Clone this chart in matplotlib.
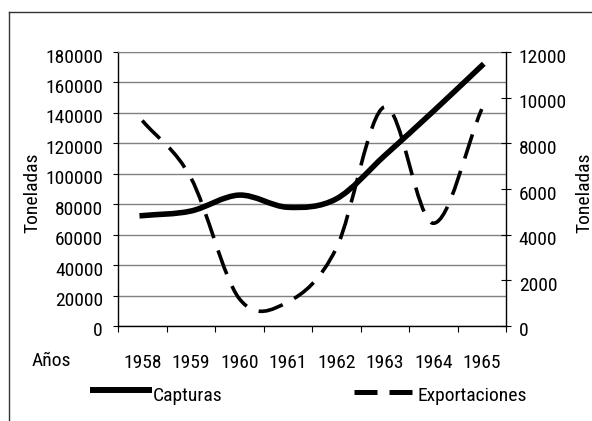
# Capturas y exportaciones, 1958-1965 (dos ejes)
import numpy as np
import matplotlib
matplotlib.use("Agg")
import matplotlib.pyplot as plt
import matplotlib.transforms as mtransforms
from matplotlib import font_manager
from matplotlib.path import Path
from matplotlib.patches import PathPatch
from matplotlib.lines import Line2D

years = ["1958", "1959", "1960", "1961", "1962", "1963", "1964", "1965"]
capturas = [72500, 75500, 86000, 78000, 83500, 112000, 141000, 171000]
exportaciones = [9000, 6500, 1200, 1050, 3400, 9600, 4500, 9500]
left_ticks = list(range(0, 180001, 20000))
right_ticks = list(range(0, 12001, 2000))

W, H = 592, 421

names = {f.name for f in font_manager.fontManager.ttflist}
FONT, FS = "Liberation Sans", 12
for cand in ["Liberation Sans Narrow", "Arial Narrow", "Roboto Condensed"]:
    if cand in names:
        FONT, FS = cand, 14
        break
plt.rcParams["font.family"] = [FONT, "DejaVu Sans"]
plt.rcParams["font.size"] = FS


def fx(x):
    return x / W


def fy(y):
    return 1 - y / H


def smooth_path(xs, ys):
    # bezier suavizado tipo Excel que pasa por cada punto
    pts = np.column_stack([xs, ys]).astype(float)
    ext = np.vstack([2 * pts[0] - pts[1], pts, 2 * pts[-1] - pts[-2]])
    verts = [pts[0]]
    codes = [Path.MOVETO]
    for i in range(len(pts) - 1):
        p0, p1, p2, p3 = ext[i], ext[i + 1], ext[i + 2], ext[i + 3]
        verts += [p1 + (p2 - p0) / 6, p2 - (p3 - p1) / 6, p2]
        codes += [Path.CURVE4] * 3
    return Path(verts, codes)


fig = plt.figure(figsize=(W / 100, H / 100), dpi=100)
ax = fig.add_axes([fx(118), 1 - 326 / H, 388 / W, 274 / H])
ax2 = ax.twinx()

x = np.arange(len(years)) + 0.5
ax.set_xlim(0, len(years))
ax.set_ylim(0, 180000)
ax2.set_ylim(0, 12000)

ax.set_xticks(np.arange(len(years) + 1))
ax.set_xticks(x, minor=True)
ax.set_xticklabels([], minor=False)
ax.set_xticklabels(years, minor=True)
ax.tick_params(axis="x", which="major", direction="out", length=4.3, width=0.8)
ax.tick_params(axis="x", which="minor", length=0, pad=20.5)

ax.set_yticks(left_ticks)
ax.set_yticklabels([str(v) for v in left_ticks])
ax.tick_params(axis="y", direction="out", length=3.6, width=0.8, pad=7.2)
ax2.set_yticks(right_ticks)
ax2.set_yticklabels([str(v) for v in right_ticks])
ax2.tick_params(axis="y", direction="inout", length=6.5, width=0.8, pad=6)

off = mtransforms.ScaledTranslation(0, -0.035, fig.dpi_scale_trans)
for lbl in ax.get_yticklabels() + ax2.get_yticklabels():
    lbl.set_transform(lbl.get_transform() + off)

ax.yaxis.grid(True, color="#808080", lw=1)
ax.set_axisbelow(True)
for s in ["left", "bottom"]:
    ax.spines[s].set_color("black")
    ax.spines[s].set_linewidth(1)
ax.spines["top"].set_color("#808080")
ax.spines["right"].set_visible(False)
for s in ["left", "bottom", "top"]:
    ax2.spines[s].set_visible(False)
ax2.spines["right"].set_color("black")
ax2.spines["right"].set_linewidth(1)

exp_line = PathPatch(smooth_path(x, exportaciones), fill=False, edgecolor="black",
                     lw=2.6, linestyle=(0, (7, 3.6)), capstyle="butt",
                     transform=ax2.transData, zorder=2)
cap_line = PathPatch(smooth_path(x, capturas), fill=False, edgecolor="black",
                     lw=4, capstyle="projecting", joinstyle="round",
                     transform=ax.transData, zorder=3)
ax.add_patch(exp_line)
ax.add_patch(cap_line)

fig.text(fx(32), fy(193), "Toneladas", rotation=90, ha="center", va="center")
fig.text(fx(584), fy(193), "Toneladas", rotation=90, ha="center", va="center")
fig.text(fx(32), fy(366.5), "Años", ha="left", va="baseline")

# leyenda
fig.add_artist(Line2D([fx(90), fx(152)], [fy(390), fy(390)], color="black",
                      lw=4.3, solid_capstyle="butt"))
fig.text(fx(153), fy(401), "Capturas", ha="left", va="baseline")
fig.add_artist(Line2D([fx(354), fx(412)], [fy(392), fy(392)], color="black",
                      lw=3.6, linestyle=(0, (4.6, 2.4)), dash_capstyle="butt"))
fig.text(fx(418), fy(401), "Exportaciones", ha="left", va="baseline")

# marco exterior
fig.add_artist(Line2D([fx(9), 1], [fy(12), fy(12)], color="#333333", lw=1))
fig.add_artist(Line2D([fx(9), fx(9)], [0, fy(12)], color="#333333", lw=1))

fig.savefig("out.png", dpi=100)
